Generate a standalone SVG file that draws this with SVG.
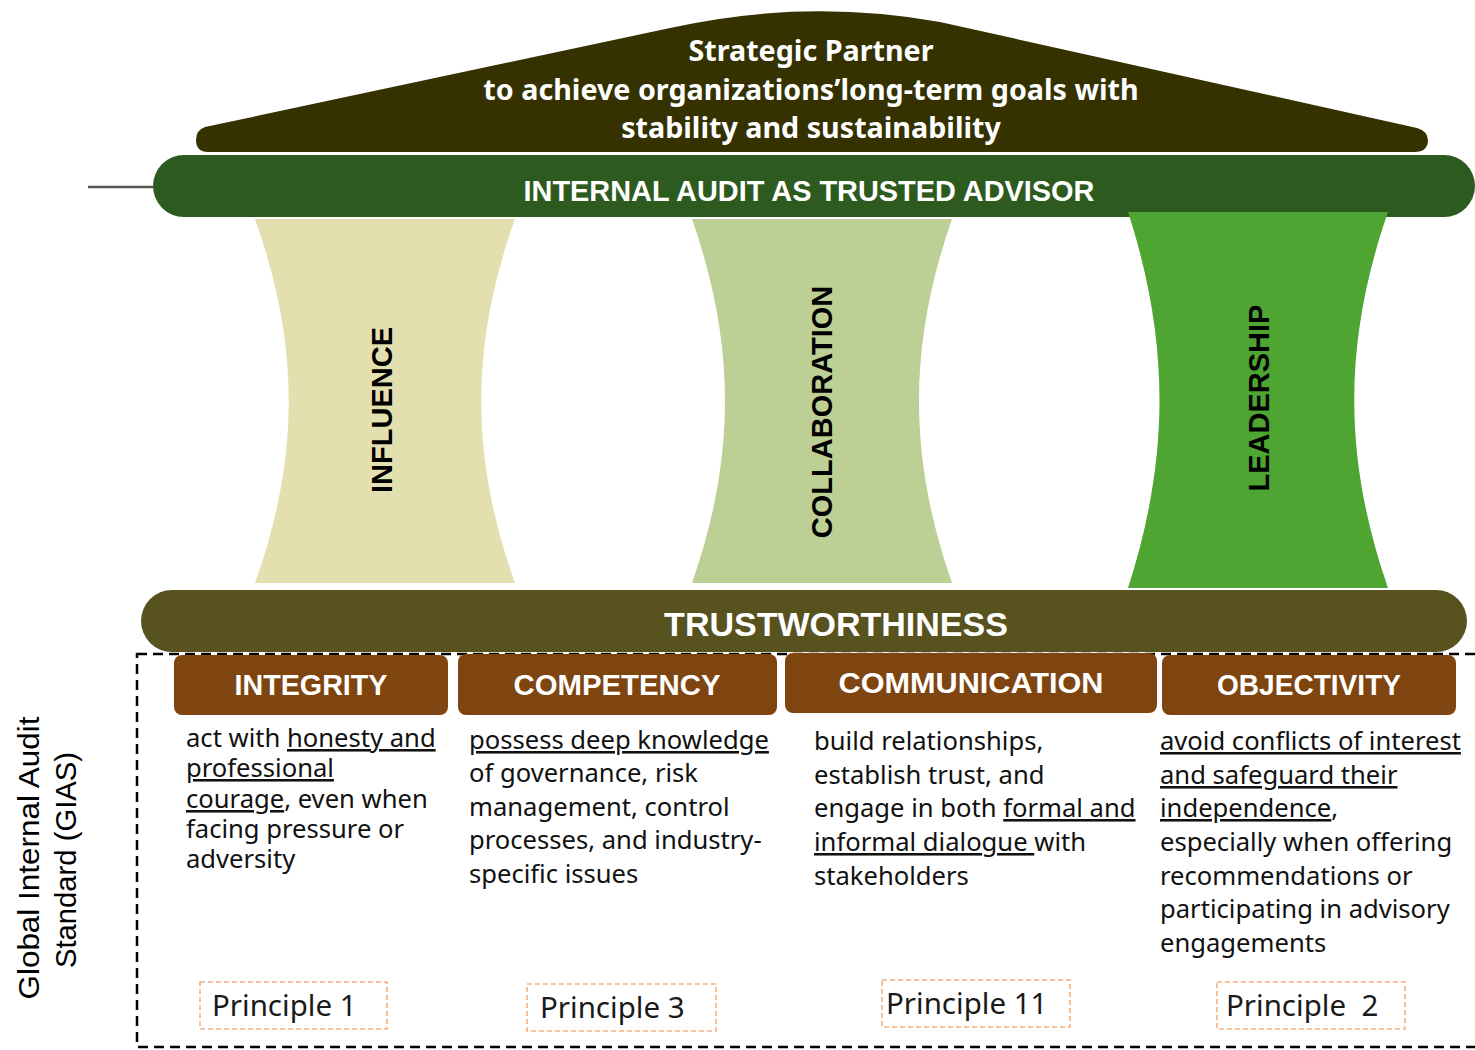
<svg xmlns="http://www.w3.org/2000/svg" width="1475" height="1050" viewBox="0 0 1475 1050">
<style>
.roofT{font-family:"Noto Sans","Open Sans",sans-serif;font-weight:700;font-size:28.7px;fill:#fff;text-anchor:middle}
.barT{font-family:"Liberation Sans",Arial,sans-serif;font-weight:700;fill:#fff;text-anchor:middle}
.pill{font-family:"Liberation Sans",Arial,sans-serif;font-weight:700;font-size:29px;fill:#000;text-anchor:middle}
.hdr{fill:#7f4510}
.hdrT{font-family:"Liberation Sans",Arial,sans-serif;font-weight:700;font-size:29px;fill:#fff;text-anchor:middle}
.body{font-family:"Noto Sans","Open Sans",sans-serif;font-size:25.6px;fill:#111}
.u{text-decoration:underline}
.pbox{fill:none;stroke:#f4b183;stroke-width:1.6;stroke-dasharray:5,3}
.pT{font-family:"Noto Sans","Open Sans",sans-serif;font-size:29.5px;fill:#1a1a1a}
.side{font-family:"Liberation Sans",Arial,sans-serif;font-size:30px;fill:#000;text-anchor:middle}
</style>
<rect width="1475" height="1050" fill="#fff"/>
<g id="connectors">
<line x1="88" y1="187" x2="155" y2="187" stroke="#555" stroke-width="2.5"/>
</g>
<g id="roof">
<path d="M205,127 L670,28 Q805,-2 940,22 L1417,128 Q1428,131 1428,141 Q1427,152 1415,152 L208,152 Q196,152 196,140 Q196,130 205,127 Z" fill="#353101"/>
<text class="roofT" x="811" y="61">Strategic Partner</text>
<text class="roofT" x="811" y="100">to achieve organizations’long-term goals with</text>
<text class="roofT" x="811" y="138">stability and sustainability</text>
</g>
<g id="advisor-bar">
<rect x="153" y="155" width="1322" height="62" rx="31" fill="#2d5a1e"/>
<text class="barT" x="809" y="201" font-size="28.9">INTERNAL AUDIT AS TRUSTED ADVISOR</text>
</g>
<g id="pillar-influence">
<path d="M255,219 L515,219 C470,345 470,457 515,583 L255,583 C300,457 300,345 255,219 Z" fill="#e3dfae"/>
<text class="pill" transform="translate(392,410) rotate(-90)">INFLUENCE</text>
</g>
<g id="pillar-collaboration">
<path d="M692,219 L952,219 C908,345 908,457 952,583 L692,583 C736,457 736,345 692,219 Z" fill="#bccf94"/>
<text class="pill" transform="translate(832,412) rotate(-90)">COLLABORATION</text>
</g>
<g id="pillar-leadership">
<path d="M1128,212 L1388,212 C1343,342 1343,458 1388,588 L1128,588 C1170,458 1170,342 1128,212 Z" fill="#4ea532"/>
<text class="pill" transform="translate(1269,398) rotate(-90)">LEADERSHIP</text>
</g>
<g id="trust-bar">
<rect x="141" y="590" width="1326" height="62" rx="31" fill="#58521f"/>
<text class="barT" x="836" y="636" font-size="34">TRUSTWORTHINESS</text>
</g>
<g id="gias-frame">
<rect x="137" y="654" width="1345" height="393" fill="none" stroke="#000" stroke-width="2.5" stroke-dasharray="10,6"/>
<text class="side" transform="translate(39,858) rotate(-90)" textLength="283" lengthAdjust="spacingAndGlyphs">Global Internal Audit</text>
<text class="side" transform="translate(76,860) rotate(-90)" textLength="216" lengthAdjust="spacingAndGlyphs">Standard (GIAS)</text>
</g>
<g id="integrity">
<rect class="hdr" x="174" y="655" width="274" height="60" rx="8"/>
<text class="hdrT" x="311" y="695" textLength="153" lengthAdjust="spacingAndGlyphs">INTEGRITY</text>
<text class="body" x="186" y="747">act with <tspan class="u">honesty and</tspan></text>
<text class="body" x="186" y="777"><tspan class="u">professional</tspan></text>
<text class="body" x="186" y="808"><tspan class="u">courage</tspan>, even when</text>
<text class="body" x="186" y="838">facing pressure or</text>
<text class="body" x="186" y="868">adversity</text>
<rect class="pbox" x="200" y="982" width="187" height="47"/>
<text class="pT" x="212" y="1016">Principle 1</text>
</g>
<g id="competency">
<rect class="hdr" x="458" y="654" width="319" height="61" rx="8"/>
<text class="hdrT" x="617" y="695" textLength="207" lengthAdjust="spacingAndGlyphs">COMPETENCY</text>
<text class="body" x="469" y="749"><tspan class="u">possess deep knowledge</tspan></text>
<text class="body" x="469" y="782">of governance, risk</text>
<text class="body" x="469" y="816">management, control</text>
<text class="body" x="469" y="849">processes, and industry-</text>
<text class="body" x="469" y="883">specific issues</text>
<rect class="pbox" x="527" y="984" width="189" height="47"/>
<text class="pT" x="540" y="1018">Principle 3</text>
</g>
<g id="communication">
<rect class="hdr" x="785" y="653" width="372" height="60" rx="8"/>
<text class="hdrT" x="971" y="693" textLength="265" lengthAdjust="spacingAndGlyphs">COMMUNICATION</text>
<text class="body" x="814" y="750">build relationships,</text>
<text class="body" x="814" y="784">establish trust, and</text>
<text class="body" x="814" y="817">engage in both <tspan class="u">formal and</tspan></text>
<text class="body" x="814" y="851"><tspan class="u">informal dialogue </tspan>with</text>
<text class="body" x="814" y="885">stakeholders</text>
<rect class="pbox" x="882" y="980" width="188" height="47"/>
<text class="pT" x="886" y="1014">Principle 11</text>
</g>
<g id="objectivity">
<rect class="hdr" x="1162" y="655" width="294" height="60" rx="8"/>
<text class="hdrT" x="1309" y="695" textLength="184" lengthAdjust="spacingAndGlyphs">OBJECTIVITY</text>
<text class="body" x="1160" y="750"><tspan class="u">avoid conflicts of interest</tspan></text>
<text class="body" x="1160" y="784"><tspan class="u">and safeguard their</tspan></text>
<text class="body" x="1160" y="817"><tspan class="u">independence</tspan>,</text>
<text class="body" x="1160" y="851">especially when offering</text>
<text class="body" x="1160" y="885">recommendations or</text>
<text class="body" x="1160" y="918">participating in advisory</text>
<text class="body" x="1160" y="952">engagements</text>
<rect class="pbox" x="1217" y="982" width="188" height="47"/>
<text class="pT" x="1226" y="1016" xml:space="preserve">Principle  2</text>
</g>
</svg>
